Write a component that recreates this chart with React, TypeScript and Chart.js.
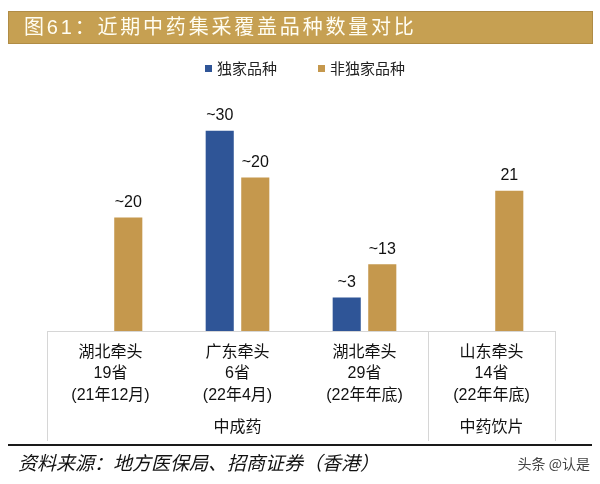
import React, { useEffect, useRef } from "react";
import { Chart, registerables } from "chart.js";
Chart.register(...registerables);

const TITLE = "图61：近期中药集采覆盖品种数量对比";
const SOURCE = "资料来源：地方医保局、招商证券（香港）";
const WATERMARK = "头条 @认是";

const seriesNames = ["独家品种", "非独家品种"];
const catLine1 = ["湖北牵头", "广东牵头", "湖北牵头", "山东牵头"];
const catLine2 = ["19省", "6省", "29省", "14省"];
const catLine3 = ["(21年12月)", "(22年4月)", "(22年年底)", "(22年年底)"];
const exclusive = [null, 30, 5, null];
const nonExclusive = [17, 23, 10, 21];
const exclusiveLabels = ["", "~30", "~3", ""];
const nonExclusiveLabels = ["~20", "~20", "~13", "21"];
const groupNames = ["中成药", "中药饮片"];
const groupFrom = [0, 3];
const groupTo = [2, 3];

const BLUE = "#2f5597";
const GOLD = "#c5984d";
const CJK = '"Noto Sans CJK SC", sans-serif';
const MIX = '"Liberation Sans", "Noto Sans CJK SC", sans-serif';

const decor = {
  id: "decor",
  afterDraw(chart: any) {
    const ctx = chart.ctx;
    const xs = chart.scales.x;
    const area = chart.chartArea;
    ctx.save();
    // title bar
    ctx.fillStyle = "#c6a052";
    ctx.fillRect(8, 11, 585, 33);
    ctx.strokeStyle = "#b08c45";
    ctx.lineWidth = 1;
    ctx.strokeRect(8.5, 11.5, 584, 32);
    ctx.fillStyle = "#fffdf2";
    ctx.font = "20px " + MIX;
    ctx.textBaseline = "middle";
    ctx.textAlign = "left";
    (ctx as any).letterSpacing = "2.8px";
    ctx.fillText(TITLE, 24, 28);
    (ctx as any).letterSpacing = "0px";

    // legend
    ctx.font = "15px " + CJK;
    ctx.fillStyle = BLUE;
    ctx.fillRect(205, 65, 7, 7);
    ctx.fillStyle = "#222";
    ctx.fillText(seriesNames[0], 217, 68);
    ctx.fillStyle = GOLD;
    ctx.fillRect(318, 65, 7, 7);
    ctx.fillStyle = "#222";
    ctx.fillText(seriesNames[1], 330, 68);

    // data labels
    ctx.font = "16px " + MIX;
    ctx.textAlign = "center";
    ctx.fillStyle = "#111";
    const labelSets = [exclusiveLabels, nonExclusiveLabels];
    chart.data.datasets.forEach((ds: any, di: number) => {
      const meta = chart.getDatasetMeta(di);
      meta.data.forEach((bar: any, i: number) => {
        const t = labelSets[di][i];
        if (!t || ds.data[i] == null) return;
        ctx.fillText(t, bar.x, bar.y - 15);
      });
    });

    // table lines
    const base = area.bottom;
    const half = (xs.getPixelForValue(1) - xs.getPixelForValue(0)) / 2;
    const left = area.left;
    const right = area.right;
    ctx.strokeStyle = "#d6d6d6";
    ctx.lineWidth = 1;
    ctx.beginPath();
    ctx.moveTo(left, Math.round(base) + 0.5);
    ctx.lineTo(right, Math.round(base) + 0.5);
    const bounds: number[] = [left];
    groupTo.forEach((g) => bounds.push(xs.getPixelForValue(g) + half));
    bounds.forEach((bx) => {
      const px = Math.round(bx) + 0.5;
      ctx.moveTo(px, base);
      ctx.lineTo(px, 441);
    });
    ctx.stroke();

    // category text
    ctx.fillStyle = "#111";
    ctx.font = "16px " + MIX;
    catLine1.forEach((t, i) => {
      const cx = xs.getPixelForValue(i);
      ctx.fillText(t, cx, 353);
      ctx.fillText(catLine2[i], cx, 374);
      ctx.fillText(catLine3[i], cx, 396);
    });
    // group text
    groupNames.forEach((g, gi) => {
      const l = xs.getPixelForValue(groupFrom[gi]) - half;
      const r = xs.getPixelForValue(groupTo[gi]) + half;
      ctx.fillText(g, (l + r) / 2, 428);
    });

    // footer
    ctx.strokeStyle = "#1a1a1a";
    ctx.lineWidth = 2;
    ctx.beginPath();
    ctx.moveTo(8, 445);
    ctx.lineTo(592, 445);
    ctx.stroke();
    ctx.textAlign = "left";
    ctx.fillStyle = "#111";
    ctx.font = "italic 19px " + CJK;
    ctx.fillText(SOURCE, 18, 463);
    ctx.textAlign = "right";
    ctx.fillStyle = "#444";
    ctx.font = "14px " + CJK;
    ctx.fillText(WATERMARK, 590, 464);
    ctx.restore();
  },
};

export default function App() {
  const ref = useRef<HTMLCanvasElement | null>(null);
  useEffect(() => {
    if (!ref.current) return;
    const chart = new Chart(ref.current, {
      type: "bar",
      data: {
        labels: catLine1,
        datasets: [
          { label: seriesNames[0], data: exclusive as any, backgroundColor: BLUE, barPercentage: 0.79, categoryPercentage: 0.56 },
          { label: seriesNames[1], data: nonExclusive, backgroundColor: GOLD, barPercentage: 0.79, categoryPercentage: 0.56 },
        ],
      },
      options: {
        animation: false,
        responsive: false,
        maintainAspectRatio: false,
        layout: { padding: { left: 47, right: 45, top: 104, bottom: 153 } },
        plugins: { legend: { display: false }, tooltip: { enabled: false }, title: { display: false } },
        scales: {
          x: { display: false },
          y: { display: false, min: 0, max: 34 },
        },
      },
      plugins: [decor],
    });
    return () => chart.destroy();
  }, []);
  return (
    <div style={{ position: "absolute", left: 0, top: 0, width: 600, height: 484, background: "#fff" }}>
      <canvas ref={ref} width={600} height={484} style={{ width: 600, height: 484, display: "block" }} />
    </div>
  );
}
